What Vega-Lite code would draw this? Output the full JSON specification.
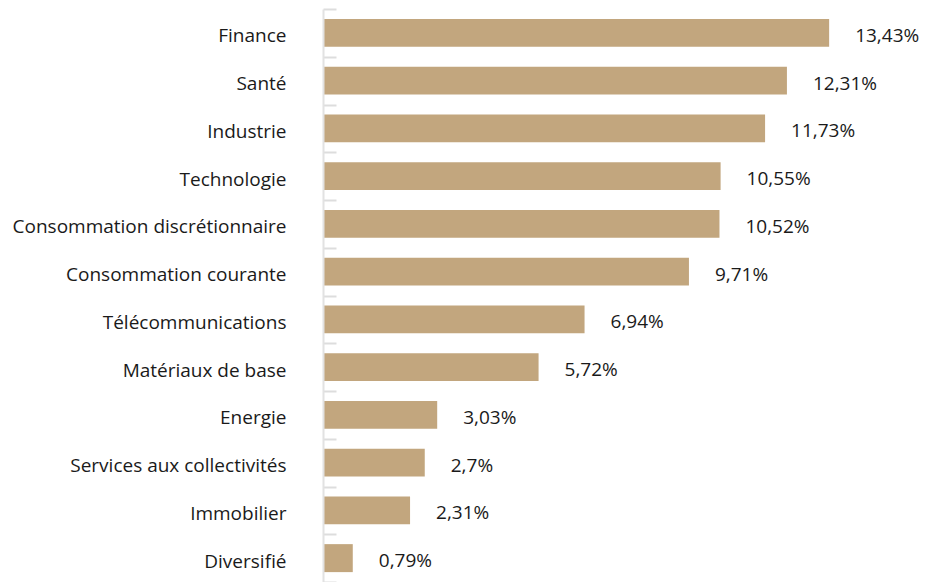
{
  "$schema": "https://vega.github.io/schema/vega-lite/v6.json",
  "width": 603,
  "height": 573,
  "autosize": {"type": "none"},
  "padding": {"left": 323, "top": 9, "right": 0, "bottom": 0},
  "background": "white",
  "config": {"view": {"stroke": null}},
  "data": {
    "values": [
      {"secteur": "Finance", "poids": 13.43, "label": "13,43%"},
      {"secteur": "Santé", "poids": 12.31, "label": "12,31%"},
      {"secteur": "Industrie", "poids": 11.73, "label": "11,73%"},
      {"secteur": "Technologie", "poids": 10.55, "label": "10,55%"},
      {"secteur": "Consommation discrétionnaire", "poids": 10.52, "label": "10,52%"},
      {"secteur": "Consommation courante", "poids": 9.71, "label": "9,71%"},
      {"secteur": "Télécommunications", "poids": 6.94, "label": "6,94%"},
      {"secteur": "Matériaux de base", "poids": 5.72, "label": "5,72%"},
      {"secteur": "Energie", "poids": 3.03, "label": "3,03%"},
      {"secteur": "Services aux collectivités", "poids": 2.7, "label": "2,7%"},
      {"secteur": "Immobilier", "poids": 2.31, "label": "2,31%"},
      {"secteur": "Diversifié", "poids": 0.79, "label": "0,79%"}
    ]
  },
  "encoding": {
    "y": {
      "field": "secteur",
      "type": "nominal",
      "sort": null,
      "scale": {"paddingInner": 0, "paddingOuter": 0},
      "axis": {
        "title": null,
        "domainColor": "#e2e2e2",
        "domainWidth": 2,
        "tickColor": "#dddddd",
        "tickWidth": 2,
        "tickBand": "extent",
        "tickSize": -13,
        "labelPadding": 50,
        "labelLimit": 400,
        "labelOffset": 3,
        "labelFont": "Open Sans",
        "labelFontSize": 19,
        "labelColor": "#1a1a1a",
        "zindex": 1
      }
    },
    "x": {
      "field": "poids",
      "type": "quantitative",
      "scale": {"domain": [0, 16], "nice": false},
      "axis": null
    }
  },
  "layer": [
    {"mark": {"type": "bar", "color": "#c2a67e", "height": {"band": 0.586}}},
    {
      "mark": {"type": "text", "align": "left", "dx": 26, "dy": 3, "font": "Open Sans", "fontSize": 19, "color": "#1a1a1a"},
      "encoding": {"text": {"field": "label"}}
    }
  ]
}
